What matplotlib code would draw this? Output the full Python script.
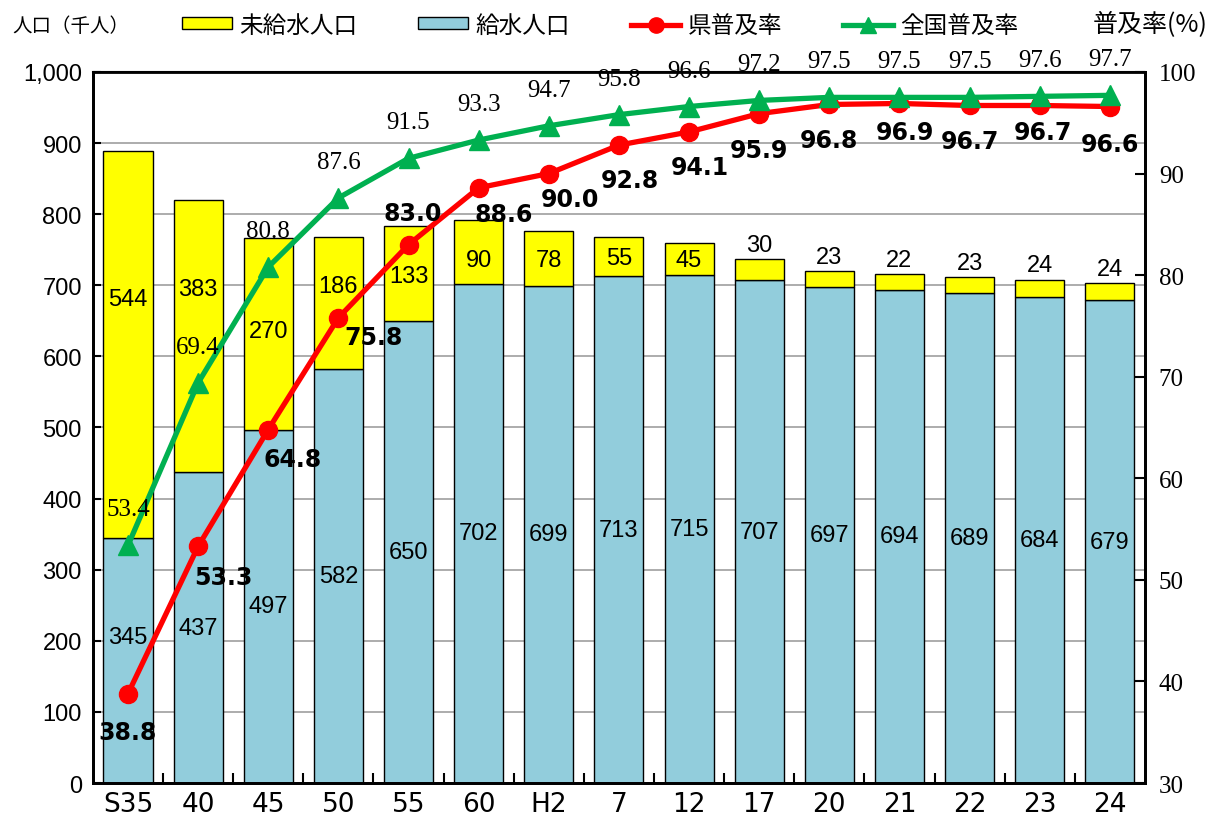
import matplotlib
matplotlib.use("Agg")
import matplotlib.pyplot as plt
from matplotlib.patches import Patch
from matplotlib.lines import Line2D
from matplotlib.ticker import StrMethodFormatter, FixedLocator
import numpy as np

plt.rcParams['font.family'] = ['Liberation Sans', 'Noto Sans CJK JP']

# data
years = ['S35', '40', '45', '50', '55', '60', 'H2', '7', '12', '17',
         '20', '21', '22', '23', '24']
served = [345, 437, 497, 582, 650, 702, 699, 713, 715, 707,
          697, 694, 689, 684, 679]
unserved = [544, 383, 270, 186, 133, 90, 78, 55, 45, 30,
            23, 22, 23, 24, 24]
pref_rate = [38.8, 53.3, 64.8, 75.8, 83.0, 88.6, 90.0, 92.8, 94.1, 95.9,
             96.8, 96.9, 96.7, 96.7, 96.6]
nat_rate = [53.4, 69.4, 80.8, 87.6, 91.5, 93.3, 94.7, 95.8, 96.6, 97.2,
            97.5, 97.5, 97.5, 97.6, 97.7]

# label placement (not data)
served_label_y = [206, None, None, None, None, None, None, None, None, None,
                  None, None, None, None, None]
unserved_label_y = [681, 695, 636, 699, 713, 735, 735, 738, 735, None,
                    None, None, None, None, None]
pref_off = [(0, -38), (25, -31), (24, -29), (35, -19), (4, 32), (25, -26),
            (21, -25), (11, -35), (11, -35), (0, -36), (0, -36), (5, -29),
            (0, -36), (3, -27), (0, -37)]

YELLOW = '#FFFF00'
BLUE = '#92CDDC'
RED = '#FF0000'
GREEN = '#00B050'
CJK = ['Noto Sans CJK JP', 'DejaVu Sans']

fig = plt.figure(figsize=(12.15, 8.2), dpi=100)
ax1 = fig.add_axes([0.0765, 0.0439, 0.8658, 0.8671])
ax2 = ax1.twinx()

x = np.arange(len(years))
ax1.bar(x, served, 0.70, color=BLUE, edgecolor='black', linewidth=1, zorder=2)
ax1.bar(x, unserved, 0.70, bottom=served, color=YELLOW, edgecolor='black',
        linewidth=1, zorder=2)

for i in range(len(years)):
    sy = served_label_y[i] if served_label_y[i] is not None else served[i] / 2
    ax1.text(x[i], sy, str(served[i]), ha='center', va='center',
             fontsize=17, zorder=3)
    if unserved_label_y[i] is not None:
        uy = unserved_label_y[i]
    else:
        uy = served[i] + unserved[i] + 20
    ax1.text(x[i], uy, str(unserved[i]), ha='center', va='center',
             fontsize=17, zorder=3)

ax1.set_xlim(-0.5, len(years) - 0.5)
ax1.set_ylim(0, 1000)
ax1.set_yticks(np.arange(0, 1001, 100))
ax1.yaxis.set_major_formatter(StrMethodFormatter('{x:,.0f}'))
ax1.yaxis.grid(True, color='#A6A6A6', linewidth=1.3)
ax1.set_axisbelow(True)
ax1.tick_params(axis='y', direction='in', length=6, width=1.5, labelsize=17, pad=8)

ax1.set_xticks(x)
ax1.set_xticklabels(years, fontsize=19, family='DejaVu Sans')
ax1.tick_params(axis='x', length=0, pad=6)
ax1.xaxis.set_minor_locator(FixedLocator(np.arange(0.5, len(years) - 1, 1)))
ax1.tick_params(axis='x', which='minor', direction='in', length=7, width=1.5)

ax2.plot(x, pref_rate, color=RED, linewidth=3.8, marker='o', markersize=13,
         zorder=4)
ax2.plot(x, nat_rate, color=GREEN, linewidth=3.8, marker='^', markersize=14,
         zorder=5)
ax2.set_ylim(30, 100)
ax2.set_yticks(np.arange(30, 101, 10))
ax2.tick_params(axis='y', direction='in', length=7, width=1.5, labelsize=18, pad=10)
for lab in ax2.get_yticklabels():
    lab.set_family('Liberation Serif')

for i in range(len(years)):
    ax2.annotate(f'{nat_rate[i]:.1f}', (x[i], nat_rate[i]), xytext=(0, 36),
                 textcoords='offset pixels', ha='center', va='center',
                 fontsize=18, family='Liberation Serif', zorder=6)
    ax2.annotate(f'{pref_rate[i]:.1f}', (x[i], pref_rate[i]),
                 xytext=pref_off[i], textcoords='offset pixels',
                 ha='center', va='center', fontsize=17, fontweight='bold',
                 family='DejaVu Sans', zorder=6)

for ax in (ax1, ax2):
    for s in ax.spines.values():
        s.set_linewidth(2)
        s.set_color('black')
ax1.spines['top'].set_linewidth(1.5)

handles = [
    Patch(facecolor=YELLOW, edgecolor='black', linewidth=1),
    Patch(facecolor=BLUE, edgecolor='black', linewidth=1),
    Line2D([], [], color=RED, linewidth=3.8, marker='o', markersize=11),
    Line2D([], [], color=GREEN, linewidth=3.8, marker='^', markersize=12),
]
labels = ['未給水人口', '給水人口', '県普及率', '全国普及率']
fig.legend(handles, labels, loc='center', bbox_to_anchor=(0.494, 0.968),
           ncol=4, frameon=False, prop={'family': CJK, 'size': 17},
           handlelength=2.1, handleheight=0.4, handletextpad=0.3,
           columnspacing=2.6)

fig.text(12 / 1215, 1 - 27 / 820, '人口（千人）', ha='left', va='center',
         fontsize=14, family=CJK)
fig.text(1208 / 1215, 1 - 25 / 820, '普及率(%)', ha='right', va='center',
         fontsize=18, family=CJK)

fig.savefig('out.png', dpi=100)
